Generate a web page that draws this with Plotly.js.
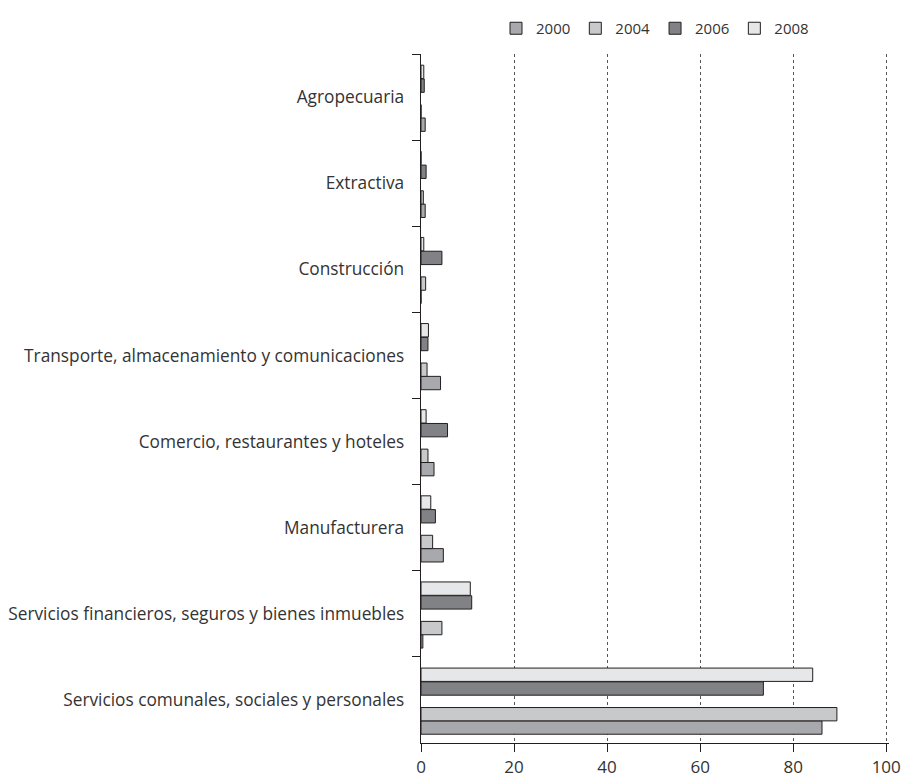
<!DOCTYPE html>
<html>
<head>
<meta charset="utf-8">
<script src="https://cdn.plot.ly/plotly-3.0.1.min.js"></script>
<style>html,body{margin:0;padding:0;background:#fff;}#chart{width:901px;height:778px;}</style>
</head>
<body>
<div id="chart"></div>
<script>
// Categories, top to bottom as drawn
const categories = [
  "Agropecuaria",
  "Extractiva",
  "Construcción",
  "Transporte, almacenamiento y comunicaciones",
  "Comercio, restaurantes y hoteles",
  "Manufacturera",
  "Servicios financieros, seguros y bienes inmuebles",
  "Servicios comunales, sociales y personales"
];
const years = ["2000", "2004", "2006", "2008"];
const values2000 = [0.9, 0.9, 0.0, 4.2, 2.8, 4.8, 0.4, 86.2];
const values2004 = [0.0, 0.5, 1.0, 1.3, 1.5, 2.5, 4.5, 89.4];
const values2006 = [0.7, 1.1, 4.5, 1.5, 5.7, 3.1, 10.9, 73.6];
const values2008 = [0.6, 0.0, 0.6, 1.6, 1.1, 2.1, 10.6, 84.2];
const xTicks = [0, 20, 40, 60, 80, 100];

const series = [values2000, values2004, values2006, values2008];
const colors = ["#a7a9ac", "#c8c9cb", "#808285", "#e6e7e8"];
const offsets = [0.243, 0.088, -0.21, -0.37];

const traces = years.map((yr, i) => ({
  type: "bar",
  orientation: "h",
  name: yr,
  y: categories,
  x: series[i],
  width: 0.155,
  offset: offsets[i],
  marker: {color: colors[i], line: {color: "#231f20", width: 1}},
  hoverinfo: "skip"
}));

const layout = {
  width: 901,
  height: 778,
  margin: {l: 421, r: 12, t: 48, b: 35},
  paper_bgcolor: "#fff",
  plot_bgcolor: "#fff",
  font: {family: "Open Sans, sans-serif", color: "#333", size: 15},
  showlegend: true,
  legend: {
    orientation: "h",
    x: 0.5, xanchor: "center",
    y: 1.037, yanchor: "middle",
    font: {size: 15, color: "#333"},
    traceorder: "normal",
    itemwidth: 30
  },
  barmode: "group",
  xaxis: {
    range: [0, 100.6],
    tickvals: xTicks,
    ticktext: xTicks.map(String),
    ticklabeloverflow: "allow",
    showgrid: true,
    gridcolor: "#555",
    griddash: "dot",
    gridwidth: 1,
    zeroline: false,
    showline: true,
    linecolor: "#231f20",
    linewidth: 1.3,
    ticks: "outside",
    ticklen: 8,
    tickcolor: "#231f20",
    tickfont: {size: 17, color: "#333"},
    fixedrange: true
  },
  yaxis: {
    type: "category",
    autorange: "reversed",
    showgrid: false,
    zeroline: false,
    showline: true,
    linecolor: "#231f20",
    linewidth: 1.3,
    ticks: "outside",
    tickson: "boundaries",
    ticklen: 8,
    tickcolor: "#231f20",
    ticklabelstandoff: 12,
    tickfont: {size: 17.3, color: "#333"},
    fixedrange: true
  }
};

Plotly.newPlot("chart", traces, layout, {displayModeBar: false, staticPlot: true});
</script>
</body>
</html>
